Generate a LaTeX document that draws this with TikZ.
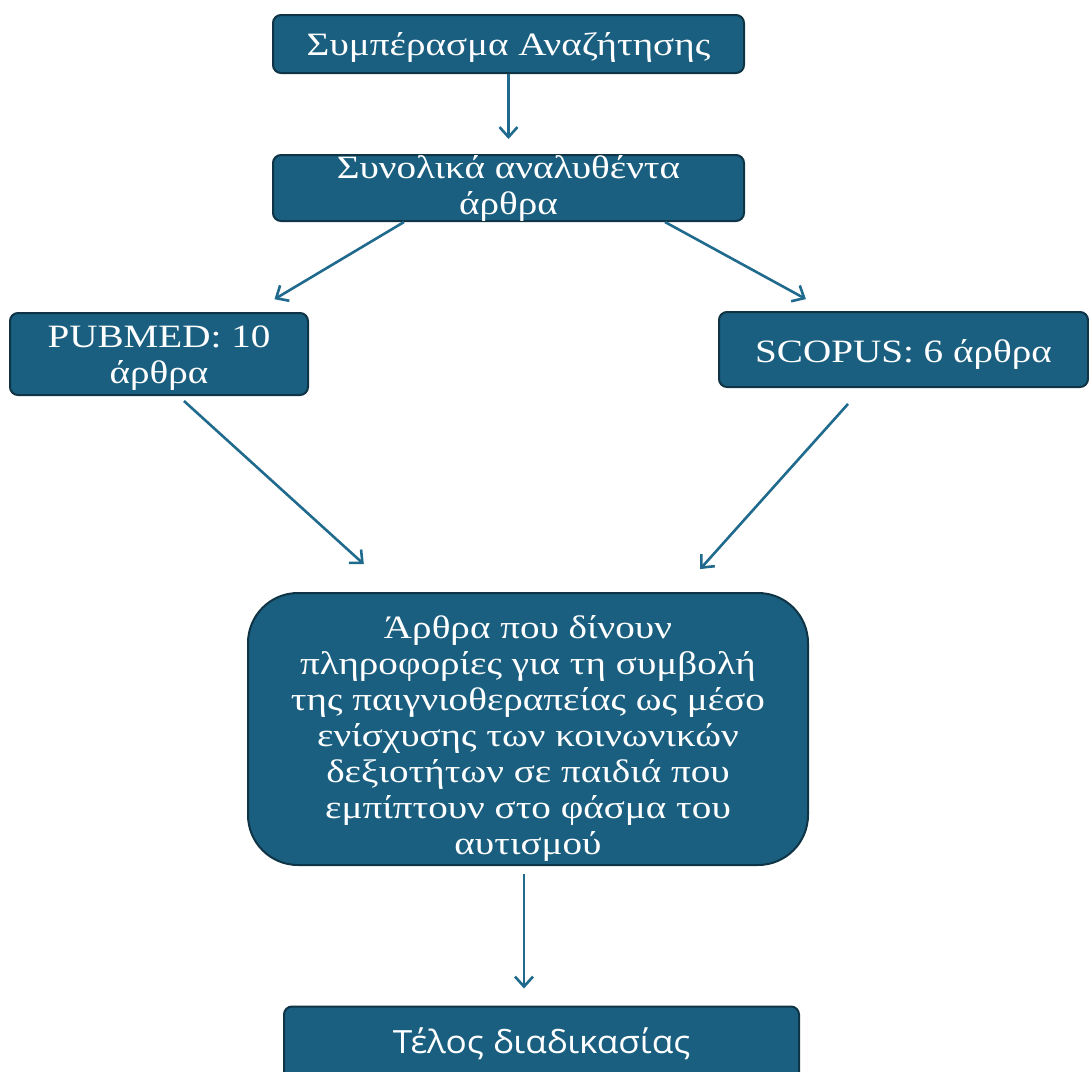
\documentclass[tikz,border=0pt]{standalone}
\usepackage{fontspec}
\setmainfont{Liberation Serif}[FakeStretch=1.2]
\newfontfamily\endfont{Open Sans}[FakeStretch=1.1]
\usetikzlibrary{arrows.meta}
\definecolor{boxfill}{HTML}{1A5F80}
\definecolor{boxline}{HTML}{0F3445}
\definecolor{arrcol}{HTML}{1F6A8D}
\tikzset{
  flowbox/.style={draw=boxline, line width=1pt, fill=boxfill, text=white,
    rounded corners=4pt, align=center, inner sep=0pt,
    font=\fontsize{16.3pt}{18pt}\selectfont},
  arr/.style={draw=arrcol, line width=1.3pt, -{Straight Barb[length=5pt,width=9pt,line width=1.3pt]}}
}
\begin{document}
\begin{tikzpicture}[x=0.5pt,y=-0.5pt]
\useasboundingbox (0,0) rectangle (1089,1072);
\node[flowbox, minimum width=235.5pt, minimum height=29pt] (b1) at (508.5,44) {\rule{0pt}{15pt}Συμπέρασμα Αναζήτησης};
\node[flowbox, minimum width=235.5pt, minimum height=33pt] (b2) at (508.5,188) {Συνολικά αναλυθέντα\\άρθρα};
\node[flowbox, minimum width=149pt, minimum height=41pt] (pub) at (159,354) {\rule{0pt}{15pt}PUBMED: 10\\άρθρα};
\node[flowbox, minimum width=184.5pt, minimum height=37.5pt] (sco) at (903.5,349.5) {\rule{0pt}{16pt}SCOPUS: 6 άρθρα};
\node[flowbox, rounded corners=25pt, minimum width=280pt, minimum height=136pt] (big) at (528,729)
  {\rule{0pt}{21pt}Άρθρα που δίνουν\\πληροφορίες για τη συμβολή\\της παιγνιοθεραπείας ως μέσο\\ενίσχυσης των κοινωνικών\\δεξιοτήτων σε παιδιά που\\εμπίπτουν στο φάσμα του\\αυτισμού};
\node[flowbox, minimum width=257.5pt, minimum height=37pt, font=\endfont\fontsize{16pt}{18pt}\selectfont] (end) at (541.5,1043.5) {Τέλος διαδικασίας};
\draw[arr, shorten >=7.5pt] (b1.south) -- (b2.north);
\draw[arr, shorten >=12.5pt] ([xshift=-52.25pt]b2.south) -- ([xshift=47pt]pub.north);
\draw[arr, shorten >=12.4pt] ([xshift=78.25pt]b2.south) -- ([xshift=-37.9pt]sco.north);
\draw[arr, shorten <=3.7pt, shorten >=20.7pt] ([xshift=9.75pt]pub.south) -- ([xshift=-66.75pt]big.north);
\draw[arr, shorten <=10.7pt, shorten >=15.4pt] ([xshift=-20.6pt]sco.south) -- ([xshift=75.8pt]big.north);
\draw[arr, shorten <=4pt, shorten >=8.5pt] ([xshift=-2pt]big.south) -- ([xshift=-8.75pt]end.north);
\end{tikzpicture}
\end{document}
